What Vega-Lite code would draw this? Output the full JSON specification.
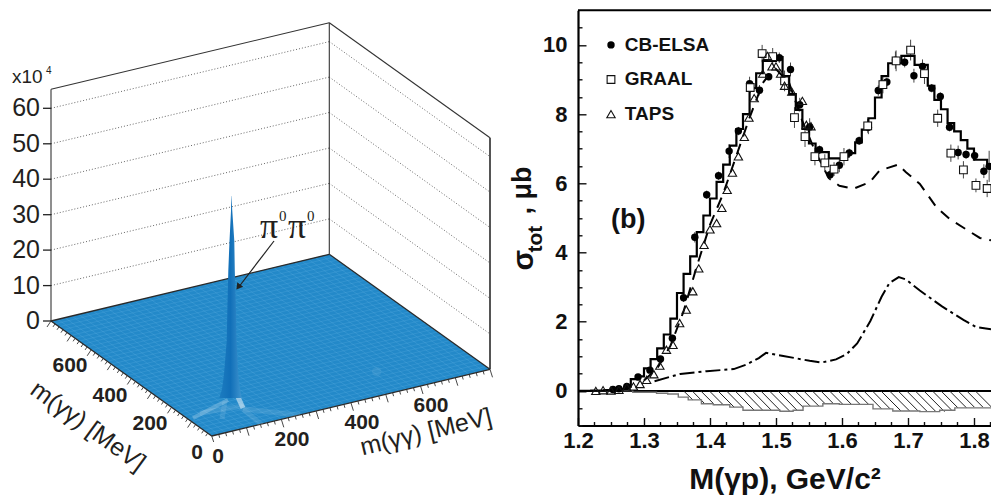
{"$schema":"https://vega.github.io/schema/vega-lite/v6.json","padding":{"left":0,"top":9.3,"right":0,"bottom":0},"spacing":0,"bounds":"flush","background":"white","config":{"view":{"stroke":null},"text":{"font":"Liberation Sans"}},
"datasets":{
"cb":[{"x":1.253,"y":0.04,"e":0.03},{"x":1.262,"y":0.06,"e":0.03},{"x":1.274,"y":0.13,"e":0.05},{"x":1.291,"y":0.4,"e":0.05},{"x":1.309,"y":0.6,"e":0.06},{"x":1.325,"y":0.92,"e":0.08},{"x":1.343,"y":1.52,"e":0.1},{"x":1.36,"y":2.69,"e":0.12},{"x":1.377,"y":4.44,"e":0.15},{"x":1.395,"y":5.67,"e":0.12},{"x":1.413,"y":6.22,"e":0.12},{"x":1.429,"y":6.93,"e":0.2},{"x":1.443,"y":7.51,"e":0.12},{"x":1.46,"y":8.88,"e":0.2},{"x":1.475,"y":8.69,"e":0.15},{"x":1.489,"y":9.08,"e":0.1},{"x":1.505,"y":9.63,"e":0.15},{"x":1.522,"y":9.29,"e":0.2},{"x":1.536,"y":8.27,"e":0.2},{"x":1.551,"y":7.63,"e":0.25},{"x":1.566,"y":6.97,"e":0.12},{"x":1.582,"y":6.25,"e":0.15},{"x":1.596,"y":6.52,"e":0.2},{"x":1.611,"y":6.88,"e":0.12},{"x":1.626,"y":7.23,"e":0.12},{"x":1.64,"y":7.62,"e":0.2},{"x":1.655,"y":8.68,"e":0.15},{"x":1.668,"y":8.93,"e":0.12},{"x":1.681,"y":9.56,"e":0.25},{"x":1.695,"y":9.5,"e":0.15},{"x":1.709,"y":9.11,"e":0.2},{"x":1.722,"y":9.38,"e":0.2},{"x":1.736,"y":8.75,"e":0.12},{"x":1.749,"y":8.51,"e":0.12},{"x":1.763,"y":7.62,"e":0.12},{"x":1.776,"y":6.89,"e":0.2},{"x":1.788,"y":6.83,"e":0.12},{"x":1.801,"y":6.8,"e":0.15},{"x":1.815,"y":6.35,"e":0.2},{"x":1.823,"y":6.49,"e":0.45}],
"graal":[{"x":1.461,"y":8.77,"e":0.15},{"x":1.479,"y":9.75,"e":0.25},{"x":1.495,"y":9.66,"e":0.25},{"x":1.513,"y":8.96,"e":0.3},{"x":1.528,"y":7.9,"e":0.3},{"x":1.544,"y":7.35,"e":0.3},{"x":1.559,"y":6.77,"e":0.25},{"x":1.574,"y":6.59,"e":0.25},{"x":1.588,"y":6.41,"e":0.2},{"x":1.603,"y":6.77,"e":0.25},{"x":1.639,"y":7.66,"e":0.2},{"x":1.662,"y":8.85,"e":0.25},{"x":1.682,"y":9.54,"e":0.3},{"x":1.704,"y":9.85,"e":0.3},{"x":1.725,"y":9.17,"e":0.3},{"x":1.745,"y":7.88,"e":0.25},{"x":1.765,"y":6.87,"e":0.25},{"x":1.784,"y":6.39,"e":0.25},{"x":1.803,"y":5.94,"e":0.2},{"x":1.82,"y":5.85,"e":0.25}]
},
"hconcat":[
{"width":578,"height":485.7,
"encoding":{"x":{"field":"u","type":"quantitative","scale":{"domain":[0,578]},"axis":null},"y":{"field":"v","type":"quantitative","scale":{"domain":[9.3,495],"reverse":true},"axis":null}},
"layer":[
{"data":{"values":[{"u":51,"v":284.6,"u2":329.3,"v2":217.9},{"u":51,"v":249.1,"u2":329.3,"v2":182.4},{"u":51,"v":213.7,"u2":329.3,"v2":147},{"u":51,"v":178.2,"u2":329.3,"v2":111.5},{"u":51,"v":142.8,"u2":329.3,"v2":76.1},{"u":51,"v":107.3,"u2":329.3,"v2":40.6},{"u":329.3,"v":217.9,"u2":490,"v2":332.9},{"u":329.3,"v":182.4,"u2":490,"v2":297.4},{"u":329.3,"v":147,"u2":490,"v2":262},{"u":329.3,"v":111.5,"u2":490,"v2":226.5},{"u":329.3,"v":76.1,"u2":490,"v2":191.1},{"u":329.3,"v":40.6,"u2":490,"v2":155.6}]},
"mark":{"type":"rule","stroke":"#666666","strokeWidth":1,"strokeDash":[1,2]},"encoding":{"x2":{"field":"u2"},"y2":{"field":"v2"}}},
{"data":{"values":[{"u":51,"v":88.3,"u2":329.3,"v2":21.7},{"u":329.3,"v":21.7,"u2":490,"v2":136.7},{"u":329.3,"v":21.7,"u2":329.3,"v2":253.3},{"u":51,"v":88.3,"u2":51,"v2":320}]},
"mark":{"type":"rule","stroke":"#333333","strokeWidth":1.1},"encoding":{"x2":{"field":"u2"},"y2":{"field":"v2"}}},
{"data":{"values":[{"u":490,"v":136.7,"u2":490,"v2":368.3}]},"mark":{"type":"rule","stroke":"#555555","strokeWidth":2},"encoding":{"x2":{"field":"u2"},"y2":{"field":"v2"}}},
{"data":{"values":[{"u":51,"v":320,"v2":320},{"u":211.7,"v":281.5,"v2":435},{"u":329.3,"v":253.3,"v2":406.8},{"u":490,"v":368.3,"v2":368.3}]},
"mark":{"type":"area","fill":"#2389c9","opacity":1},"encoding":{"y2":{"field":"v2"}}},
{"data":{"values":[{"u":207.7,"v":432.1,"u2":486,"v2":365.4},{"u":203.7,"v":429.3,"u2":482,"v2":362.6},{"u":199.6,"v":426.4,"u2":477.9,"v2":359.7},{"u":195.6,"v":423.5,"u2":473.9,"v2":356.8},{"u":191.6,"v":420.6,"u2":469.9,"v2":353.9},{"u":187.6,"v":417.8,"u2":465.9,"v2":351.1},{"u":183.6,"v":414.9,"u2":461.9,"v2":348.2},{"u":179.6,"v":412,"u2":457.9,"v2":345.3},{"u":175.5,"v":409.1,"u2":453.8,"v2":342.4},{"u":171.5,"v":406.3,"u2":449.8,"v2":339.6},{"u":167.5,"v":403.4,"u2":445.8,"v2":336.7},{"u":163.5,"v":400.5,"u2":441.8,"v2":333.8},{"u":159.5,"v":397.6,"u2":437.8,"v2":330.9},{"u":155.5,"v":394.8,"u2":433.8,"v2":328.1},{"u":151.4,"v":391.9,"u2":429.7,"v2":325.2},{"u":147.4,"v":389,"u2":425.7,"v2":322.3},{"u":143.4,"v":386.1,"u2":421.7,"v2":319.4},{"u":139.4,"v":383.3,"u2":417.7,"v2":316.6},{"u":135.4,"v":380.4,"u2":413.7,"v2":313.7},{"u":131.3,"v":377.5,"u2":409.6,"v2":310.8},{"u":127.3,"v":374.6,"u2":405.6,"v2":307.9},{"u":123.3,"v":371.8,"u2":401.6,"v2":305.1},{"u":119.3,"v":368.9,"u2":397.6,"v2":302.2},{"u":115.3,"v":366,"u2":393.6,"v2":299.3},{"u":111.3,"v":363.1,"u2":389.6,"v2":296.4},{"u":107.2,"v":360.3,"u2":385.5,"v2":293.6},{"u":103.2,"v":357.4,"u2":381.5,"v2":290.7},{"u":99.2,"v":354.5,"u2":377.5,"v2":287.8},{"u":95.2,"v":351.6,"u2":373.5,"v2":284.9},{"u":91.2,"v":348.8,"u2":369.5,"v2":282.1},{"u":87.1,"v":345.9,"u2":365.4,"v2":279.2},{"u":83.1,"v":343,"u2":361.4,"v2":276.3},{"u":79.1,"v":340.1,"u2":357.4,"v2":273.4},{"u":75.1,"v":337.3,"u2":353.4,"v2":270.6},{"u":71.1,"v":334.4,"u2":349.4,"v2":267.7},{"u":67,"v":331.5,"u2":345.3,"v2":264.8},{"u":63,"v":328.6,"u2":341.3,"v2":261.9},{"u":59,"v":325.8,"u2":337.3,"v2":259.1},{"u":55,"v":322.9,"u2":333.3,"v2":256.2},
{"u":218.7,"v":433.3,"u2":58,"v2":318.3},{"u":225.6,"v":431.7,"u2":64.9,"v2":316.7},{"u":232.5,"v":430,"u2":71.8,"v2":315},{"u":239.5,"v":428.3,"u2":78.8,"v2":313.3},{"u":246.5,"v":426.7,"u2":85.8,"v2":311.7},{"u":253.5,"v":425,"u2":92.8,"v2":310},{"u":260.4,"v":423.3,"u2":99.7,"v2":308.3},{"u":267.4,"v":421.7,"u2":106.7,"v2":306.7},{"u":274.3,"v":420,"u2":113.6,"v2":305},{"u":281.3,"v":418.3,"u2":120.6,"v2":303.3},{"u":288.2,"v":416.7,"u2":127.5,"v2":301.7},{"u":295.2,"v":415,"u2":134.5,"v2":300},{"u":302.2,"v":413.3,"u2":141.5,"v2":298.3},{"u":309.1,"v":411.7,"u2":148.4,"v2":296.7},{"u":316.1,"v":410,"u2":155.4,"v2":295},{"u":323,"v":408.3,"u2":162.3,"v2":293.3},{"u":330,"v":406.7,"u2":169.3,"v2":291.7},{"u":337,"v":405,"u2":176.3,"v2":290},{"u":343.9,"v":403.3,"u2":183.2,"v2":288.3},{"u":350.9,"v":401.7,"u2":190.2,"v2":286.7},{"u":357.9,"v":400,"u2":197.2,"v2":285},{"u":364.8,"v":398.3,"u2":204.1,"v2":283.3},{"u":371.8,"v":396.7,"u2":211.1,"v2":281.7},{"u":378.7,"v":395,"u2":218,"v2":280},{"u":385.7,"v":393.3,"u2":225,"v2":278.3},{"u":392.6,"v":391.7,"u2":231.9,"v2":276.7},{"u":399.6,"v":390,"u2":238.9,"v2":275},{"u":406.6,"v":388.3,"u2":245.9,"v2":273.3},{"u":413.5,"v":386.7,"u2":252.8,"v2":271.7},{"u":420.5,"v":385,"u2":259.8,"v2":270},{"u":427.4,"v":383.3,"u2":266.7,"v2":268.3},{"u":434.4,"v":381.7,"u2":273.7,"v2":266.7},{"u":441.4,"v":380,"u2":280.7,"v2":265},{"u":448.3,"v":378.3,"u2":287.6,"v2":263.3},{"u":455.3,"v":376.7,"u2":294.6,"v2":261.7},{"u":462.2,"v":375,"u2":301.5,"v2":260},{"u":469.2,"v":373.3,"u2":308.5,"v2":258.3},{"u":476.2,"v":371.7,"u2":315.5,"v2":256.7},{"u":483.1,"v":370,"u2":322.4,"v2":255}]},
"mark":{"type":"rule","stroke":"#7cc2ee","strokeWidth":0.6,"opacity":0.3},"encoding":{"x2":{"field":"u2"},"y2":{"field":"v2"}}},
{"data":{"values":[{"u":51,"v":320,"u2":211.7,"v2":435},{"u":211.7,"v":435,"u2":490,"v2":368.3},{"u":51,"v":320,"u2":329.3,"v2":253.3},{"u":329.3,"v":253.3,"u2":490,"v2":368.3}]},
"mark":{"type":"rule","stroke":"#2a2a2a","strokeWidth":1.3},"encoding":{"x2":{"field":"u2"},"y2":{"field":"v2"}}},
{"data":{"values":[{"u":376.7,"v":370.7}]},"mark":{"type":"point","shape":"circle","filled":true,"color":"#ffffff","size":90,"opacity":0.07}},
{"data":{"values":[{"u":200,"v":412,"u2":243,"v2":405},{"u":243,"v":408,"u2":300,"v2":414},{"u":243,"v":408,"u2":262,"v2":424},{"u":225,"v":400,"u2":222,"v2":418}]},"mark":{"type":"rule","stroke":"#ffffff","opacity":0.1,"strokeWidth":5},"encoding":{"x2":{"field":"u2"},"y2":{"field":"v2"}}},
{"data":{"values":[{"u":193,"v":417,"u2":228,"v2":399}]},"mark":{"type":"rule","stroke":"#ffffff","opacity":0.22,"strokeWidth":4},"encoding":{"x2":{"field":"u2"},"y2":{"field":"v2"}}},
{"data":{"values":[{"u":238,"v":396,"u2":243,"v2":407}]},"mark":{"type":"rule","stroke":"#ffffff","opacity":0.5,"strokeWidth":5},"encoding":{"x2":{"field":"u2"},"y2":{"field":"v2"}}},
{"data":{"values":[{"u":231.2,"u2":231.4,"v":195},{"u":231,"u2":232.3,"v":210},{"u":229.5,"u2":234.3,"v":240},{"u":228.3,"u2":234.8,"v":270},{"u":227.3,"u2":236,"v":310},{"u":226.7,"u2":236.5,"v":340},{"u":224,"u2":238.3,"v":373},{"u":222,"u2":240,"v":388},{"u":219.3,"u2":241.7,"v":397}]},
"mark":{"type":"area","orient":"horizontal","fill":{"gradient":"linear","x1":0,"x2":1,"y1":0,"y2":0,"stops":[{"offset":0,"color":"#1c7cc0"},{"offset":0.5,"color":"#116fb8"},{"offset":1,"color":"#3e94cf"}]}},"encoding":{"x2":{"field":"u2"}}},
{"data":{"values":[{"u":274,"v":240,"u2":238,"v2":287}]},"mark":{"type":"rule","stroke":"#222222","strokeWidth":1.2},"encoding":{"x2":{"field":"u2"},"y2":{"field":"v2"}}},
{"data":{"values":[{"u":238.3,"v":286}]},"mark":{"type":"point","shape":"triangle-up","filled":true,"color":"#222222","size":55,"angle":217,"opacity":1}},
{"data":{"values":[{"u":43,"v":320,"u2":51,"v2":320},{"u":43,"v":284.6,"u2":51,"v2":284.6},{"u":43,"v":249.1,"u2":51,"v2":249.1},{"u":43,"v":213.7,"u2":51,"v2":213.7},{"u":43,"v":178.2,"u2":51,"v2":178.2},{"u":43,"v":142.8,"u2":51,"v2":142.8},{"u":43,"v":107.3,"u2":51,"v2":107.3}]},"mark":{"type":"rule","stroke":"#222222","strokeWidth":1.3},"encoding":{"x2":{"field":"u2"},"y2":{"field":"v2"}}},
{"data":{"values":[{"v":312.9},{"v":305.8},{"v":298.7},{"v":291.6},{"v":277.5},{"v":270.4},{"v":263.3},{"v":256.2},{"v":242},{"v":234.9},{"v":227.8},{"v":220.7},{"v":206.6},{"v":199.5},{"v":192.4},{"v":185.3},{"v":171.1},{"v":164},{"v":156.9},{"v":149.8},{"v":135.7},{"v":128.6},{"v":121.5},{"v":114.4},{"v":100.2},{"v":93.1}]},"mark":{"type":"tick","orient":"horizontal","color":"#555555","thickness":1,"size":3},"encoding":{"x":{"datum":50,"type":"quantitative"}}},
{"data":{"values":[{"u":211.7,"v":435,"u2":213.7,"v2":441},{"u":218.7,"v":433.3,"u2":219.7,"v2":436.8},{"u":225.6,"v":431.7,"u2":226.6,"v2":435.2},{"u":232.5,"v":430,"u2":233.5,"v2":433.5},{"u":239.5,"v":428.3,"u2":240.5,"v2":431.8},{"u":246.5,"v":426.7,"u2":249,"v2":434.7},{"u":253.5,"v":425,"u2":254.5,"v2":428.5},{"u":260.4,"v":423.3,"u2":261.4,"v2":426.8},{"u":267.4,"v":421.7,"u2":268.4,"v2":425.2},{"u":274.3,"v":420,"u2":275.3,"v2":423.5},{"u":281.3,"v":418.3,"u2":283.8,"v2":426.3},{"u":288.2,"v":416.7,"u2":289.2,"v2":420.2},{"u":295.2,"v":415,"u2":296.2,"v2":418.5},{"u":302.2,"v":413.3,"u2":303.2,"v2":416.8},{"u":309.1,"v":411.7,"u2":310.1,"v2":415.2},{"u":316.1,"v":410,"u2":318.6,"v2":418},{"u":323,"v":408.3,"u2":324,"v2":411.8},{"u":330,"v":406.7,"u2":331,"v2":410.2},{"u":337,"v":405,"u2":338,"v2":408.5},{"u":343.9,"v":403.3,"u2":344.9,"v2":406.8},{"u":350.9,"v":401.7,"u2":353.4,"v2":409.7},{"u":357.9,"v":400,"u2":358.9,"v2":403.5},{"u":364.8,"v":398.3,"u2":365.8,"v2":401.8},{"u":371.8,"v":396.7,"u2":372.8,"v2":400.2},{"u":378.7,"v":395,"u2":379.7,"v2":398.5},{"u":385.7,"v":393.3,"u2":388.2,"v2":401.3},{"u":392.6,"v":391.7,"u2":393.6,"v2":395.2},{"u":399.6,"v":390,"u2":400.6,"v2":393.5},{"u":406.6,"v":388.3,"u2":407.6,"v2":391.8},{"u":413.5,"v":386.7,"u2":414.5,"v2":390.2},{"u":420.5,"v":385,"u2":423,"v2":393},{"u":427.4,"v":383.3,"u2":428.4,"v2":386.8},{"u":434.4,"v":381.7,"u2":435.4,"v2":385.2},{"u":441.4,"v":380,"u2":442.4,"v2":383.5},{"u":448.3,"v":378.3,"u2":449.3,"v2":381.8},{"u":455.3,"v":376.7,"u2":457.8,"v2":384.7},{"u":462.2,"v":375,"u2":463.2,"v2":378.5},{"u":469.2,"v":373.3,"u2":470.2,"v2":376.8},{"u":476.2,"v":371.7,"u2":477.2,"v2":375.2},{"u":483.1,"v":370,"u2":484.1,"v2":373.5},{"u":490,"v":368.3,"u2":492.5,"v2":376.3},
{"u":207.7,"v":432.1,"u2":205.7,"v2":435.1},{"u":203.7,"v":429.3,"u2":201.7,"v2":432.3},{"u":199.6,"v":426.4,"u2":197.6,"v2":429.4},{"u":195.6,"v":423.5,"u2":193.6,"v2":426.5},{"u":191.6,"v":420.6,"u2":187.6,"v2":426.6},{"u":187.6,"v":417.8,"u2":185.6,"v2":420.8},{"u":183.6,"v":414.9,"u2":181.6,"v2":417.9},{"u":179.6,"v":412,"u2":177.6,"v2":415},{"u":175.5,"v":409.1,"u2":173.5,"v2":412.1},{"u":171.5,"v":406.3,"u2":167.5,"v2":412.3},{"u":167.5,"v":403.4,"u2":165.5,"v2":406.4},{"u":163.5,"v":400.5,"u2":161.5,"v2":403.5},{"u":159.5,"v":397.6,"u2":157.5,"v2":400.6},{"u":155.5,"v":394.8,"u2":153.5,"v2":397.8},{"u":151.4,"v":391.9,"u2":147.4,"v2":397.9},{"u":147.4,"v":389,"u2":145.4,"v2":392},{"u":143.4,"v":386.1,"u2":141.4,"v2":389.1},{"u":139.4,"v":383.3,"u2":137.4,"v2":386.3},{"u":135.4,"v":380.4,"u2":133.4,"v2":383.4},{"u":131.3,"v":377.5,"u2":127.3,"v2":383.5},{"u":127.3,"v":374.6,"u2":125.3,"v2":377.6},{"u":123.3,"v":371.8,"u2":121.3,"v2":374.8},{"u":119.3,"v":368.9,"u2":117.3,"v2":371.9},{"u":115.3,"v":366,"u2":113.3,"v2":369},{"u":111.3,"v":363.1,"u2":107.3,"v2":369.1},{"u":107.2,"v":360.3,"u2":105.2,"v2":363.3},{"u":103.2,"v":357.4,"u2":101.2,"v2":360.4},{"u":99.2,"v":354.5,"u2":97.2,"v2":357.5},{"u":95.2,"v":351.6,"u2":93.2,"v2":354.6},{"u":91.2,"v":348.8,"u2":87.2,"v2":354.8},{"u":87.1,"v":345.9,"u2":85.1,"v2":348.9},{"u":83.1,"v":343,"u2":81.1,"v2":346},{"u":79.1,"v":340.1,"u2":77.1,"v2":343.1},{"u":75.1,"v":337.3,"u2":73.1,"v2":340.3},{"u":71.1,"v":334.4,"u2":67.1,"v2":340.4},{"u":67,"v":331.5,"u2":65,"v2":334.5},{"u":63,"v":328.6,"u2":61,"v2":331.6},{"u":59,"v":325.8,"u2":57,"v2":328.8},{"u":55,"v":322.9,"u2":53,"v2":325.9},{"u":51,"v":320,"u2":47,"v2":326}]},
"mark":{"type":"rule","stroke":"#333333","strokeWidth":0.9},"encoding":{"x2":{"field":"u2"},"y2":{"field":"v2"}}},
{"data":{"values":[{"u":40,"v":320,"t":"0"},{"u":40,"v":284.6,"t":"10"},{"u":40,"v":249.1,"t":"20"},{"u":40,"v":213.7,"t":"30"},{"u":40,"v":178.2,"t":"40"},{"u":40,"v":142.8,"t":"50"},{"u":40,"v":107.3,"t":"60"}]},
"mark":{"type":"text","align":"right","baseline":"middle","fontSize":25,"color":"#231f20","font":"Liberation Sans"},"encoding":{"text":{"field":"t"}}},
{"data":{"values":[{"u":12,"v":82,"t":"x10"}]},"mark":{"type":"text","align":"left","baseline":"alphabetic","fontSize":19,"color":"#231f20","font":"Liberation Sans"},"encoding":{"text":{"field":"t"}}},
{"data":{"values":[{"u":46,"v":73,"t":"4"}]},"mark":{"type":"text","align":"left","baseline":"alphabetic","fontSize":10,"color":"#231f20","font":"Liberation Sans"},"encoding":{"text":{"field":"t"}}},
{"data":{"values":[{"u":197,"v":452,"t":"0"},{"u":150,"v":423,"t":"200"},{"u":110,"v":395,"t":"400"},{"u":70,"v":365,"t":"600"},{"u":218,"v":456,"t":"0"},{"u":292,"v":439,"t":"200"},{"u":362,"v":422,"t":"400"},{"u":431,"v":405,"t":"600"}]},
"mark":{"type":"text","align":"center","baseline":"middle","fontSize":21,"fontWeight":"bold","color":"#231f20","font":"Liberation Sans"},"encoding":{"text":{"field":"t"}}},
{"data":{"values":[{"u":88,"v":425,"t":"m(γγ) [MeV]"}]},"mark":{"type":"text","align":"center","baseline":"middle","fontSize":25,"angle":36,"color":"#231f20","font":"Liberation Sans"},"encoding":{"text":{"field":"t"}}},
{"data":{"values":[{"u":426,"v":431,"t":"m(γγ) [MeV]"}]},"mark":{"type":"text","align":"center","baseline":"middle","fontSize":25,"angle":-13.5,"color":"#231f20","font":"Liberation Sans"},"encoding":{"text":{"field":"t"}}},
{"data":{"values":[{"u":260,"v":237,"t":"π"},{"u":288,"v":237,"t":"π"}]},"mark":{"type":"text","align":"left","baseline":"alphabetic","fontSize":36,"color":"#231f20","font":"Liberation Serif"},"encoding":{"text":{"field":"t"}}},
{"data":{"values":[{"u":279,"v":220,"t":"0"},{"u":307,"v":220,"t":"0"}]},"mark":{"type":"text","align":"left","baseline":"alphabetic","fontSize":15,"color":"#231f20","font":"Liberation Serif"},"encoding":{"text":{"field":"t"}}}
]},
{"width":413,"height":415.2,
"encoding":{
"x":{"field":"x","type":"quantitative","title":"M(γp), GeV/c²","scale":{"domain":[1.2,1.8258],"nice":false,"zero":false},"axis":{"values":[1.2,1.225,1.25,1.275,1.3,1.325,1.35,1.375,1.4,1.425,1.45,1.475,1.5,1.525,1.55,1.575,1.6,1.625,1.65,1.675,1.7,1.725,1.75,1.775,1.8,1.825],"labelExpr":"abs(datum.value*10-round(datum.value*10))<0.01?format(datum.value,'.1f'):''","labelOverlap":false,"labelFlush":false,"tickSize":{"condition":{"test":"abs(datum.value*10-round(datum.value*10))<0.01","value":-8},"value":-4},"tickColor":"#111111","tickWidth":1.4,"domainColor":"#000000","domainWidth":2.2,"grid":false,"labelFont":"Liberation Sans","labelFontWeight":"bold","labelFontSize":22,"labelColor":"#111111","labelPadding":13,"titleFont":"Liberation Sans","titleFontWeight":"bold","titleFontSize":30,"titleColor":"#111111","titlePadding":9}},
"y":{"field":"y","type":"quantitative","title":null,"scale":{"domain":[-1,11],"nice":false,"zero":false},"axis":{"values":[-1,-0.5,0,0.5,1,1.5,2,2.5,3,3.5,4,4.5,5,5.5,6,6.5,7,7.5,8,8.5,9,9.5,10,10.5],"labelExpr":"(datum.value%2==0&&datum.value>=0)?format(datum.value,'d'):''","labelOverlap":false,"labelFlush":false,"tickSize":{"condition":{"test":"datum.value%2==0","value":-8},"value":-4},"tickColor":"#111111","tickWidth":1.4,"domainColor":"#000000","domainWidth":2.2,"grid":false,"labelFont":"Liberation Sans","labelFontWeight":"bold","labelFontSize":22,"labelColor":"#111111","labelPadding":19}}},
"layer":[
{"data":{"values":[{"x":1.2,"y":11,"x2":1.8258},{"x":1.2,"y":0,"x2":1.8258}]},"mark":{"type":"rule","stroke":"#000000","strokeWidth":2},"encoding":{"x2":{"field":"x2"}}},
{"data":{"values":[{"x":1.36,"x2":1.374,"y":0,"y2":-0.26},{"x":1.373,"x2":1.392,"y":0,"y2":-0.37},{"x":1.386,"x2":1.407,"y":0,"y2":-0.4},{"x":1.399,"x2":1.42,"y":0,"y2":-0.4},{"x":1.412,"x2":1.4366,"y":0,"y2":-0.47},{"x":1.425,"x2":1.4496,"y":0,"y2":-0.47},{"x":1.438,"x2":1.467,"y":0,"y2":-0.56},{"x":1.451,"x2":1.48,"y":0,"y2":-0.56},{"x":1.464,"x2":1.493,"y":0,"y2":-0.56},{"x":1.477,"x2":1.506,"y":0,"y2":-0.56},{"x":1.49,"x2":1.521,"y":0,"y2":-0.59},{"x":1.503,"x2":1.532,"y":0,"y2":-0.56},{"x":1.516,"x2":1.5415,"y":0,"y2":-0.48},{"x":1.529,"x2":1.552,"y":0,"y2":-0.44},{"x":1.542,"x2":1.565,"y":0,"y2":-0.44},{"x":1.555,"x2":1.5744,"y":0,"y2":-0.37},{"x":1.568,"x2":1.587,"y":0,"y2":-0.37},{"x":1.581,"x2":1.6014,"y":0,"y2":-0.39},{"x":1.594,"x2":1.6144,"y":0,"y2":-0.39},{"x":1.607,"x2":1.6274,"y":0,"y2":-0.39},{"x":1.62,"x2":1.6404,"y":0,"y2":-0.39},{"x":1.633,"x2":1.66,"y":0,"y2":-0.52},{"x":1.646,"x2":1.673,"y":0,"y2":-0.52},{"x":1.659,"x2":1.6894,"y":0,"y2":-0.58},{"x":1.672,"x2":1.7024,"y":0,"y2":-0.58},{"x":1.685,"x2":1.7154,"y":0,"y2":-0.58},{"x":1.698,"x2":1.7294,"y":0,"y2":-0.6},{"x":1.711,"x2":1.7424,"y":0,"y2":-0.6},{"x":1.724,"x2":1.7554,"y":0,"y2":-0.6},{"x":1.737,"x2":1.7664,"y":0,"y2":-0.56},{"x":1.75,"x2":1.7757,"y":0,"y2":-0.49},{"x":1.763,"x2":1.7887,"y":0,"y2":-0.49},{"x":1.776,"x2":1.8006,"y":0,"y2":-0.47},{"x":1.789,"x2":1.8136,"y":0,"y2":-0.47},{"x":1.802,"x2":1.8266,"y":0,"y2":-0.47}]},"mark":{"type":"rule","stroke":"#222222","strokeWidth":1,"clip":true},"encoding":{"x2":{"field":"x2"},"y2":{"field":"y2"}}},
{"data":{"values":[{"x":1.2,"y":0},{"x":1.283,"y":-0.04},{"x":1.319,"y":-0.07},{"x":1.336,"y":-0.09},{"x":1.352,"y":-0.18},{"x":1.367,"y":-0.26},{"x":1.387,"y":-0.37},{"x":1.405,"y":-0.4},{"x":1.43,"y":-0.47},{"x":1.45,"y":-0.56},{"x":1.485,"y":-0.56},{"x":1.506,"y":-0.59},{"x":1.526,"y":-0.56},{"x":1.541,"y":-0.44},{"x":1.571,"y":-0.37},{"x":1.596,"y":-0.39},{"x":1.647,"y":-0.52},{"x":1.677,"y":-0.58},{"x":1.718,"y":-0.6},{"x":1.748,"y":-0.56},{"x":1.771,"y":-0.49},{"x":1.8258,"y":-0.47}]},"mark":{"type":"line","interpolate":"step-after","stroke":"#777777","strokeWidth":1.4}},
{"data":{"values":[{"x":1.3,"y":0.3},{"x":1.32,"y":0.65},{"x":1.34,"y":1.3},{"x":1.36,"y":2.3},{"x":1.38,"y":3.6},{"x":1.4,"y":4.8},{"x":1.42,"y":5.7},{"x":1.44,"y":6.8},{"x":1.46,"y":7.9},{"x":1.48,"y":8.9},{"x":1.49,"y":9.15},{"x":1.5,"y":9.3},{"x":1.52,"y":8.9},{"x":1.54,"y":7.8},{"x":1.56,"y":6.9},{"x":1.58,"y":6.15},{"x":1.596,"y":5.93},{"x":1.617,"y":5.84},{"x":1.642,"y":6.03},{"x":1.657,"y":6.37},{"x":1.685,"y":6.54},{"x":1.697,"y":6.32},{"x":1.718,"y":5.98},{"x":1.743,"y":5.31},{"x":1.763,"y":4.97},{"x":1.783,"y":4.73},{"x":1.809,"y":4.42},{"x":1.8258,"y":4.35}]},"mark":{"type":"line","stroke":"#000000","strokeWidth":2,"strokeDash":[11,8]}},
{"data":{"values":[{"x":1.316,"y":0.28},{"x":1.355,"y":0.49},{"x":1.395,"y":0.57},{"x":1.436,"y":0.63},{"x":1.455,"y":0.76},{"x":1.474,"y":0.95},{"x":1.485,"y":1.1},{"x":1.511,"y":1.01},{"x":1.551,"y":0.87},{"x":1.569,"y":0.82},{"x":1.591,"y":0.91},{"x":1.607,"y":1.06},{"x":1.623,"y":1.37},{"x":1.643,"y":2.02},{"x":1.66,"y":2.72},{"x":1.672,"y":3.12},{"x":1.686,"y":3.29},{"x":1.697,"y":3.22},{"x":1.718,"y":2.9},{"x":1.751,"y":2.45},{"x":1.784,"y":2.05},{"x":1.803,"y":1.85},{"x":1.8258,"y":1.78}]},"mark":{"type":"line","stroke":"#000000","strokeWidth":2,"strokeDash":[15,4,3,4]}},
{"data":{"name":"cb"},"mark":{"type":"errorbar","rule":{"stroke":"#444444","strokeWidth":1}},"encoding":{"yError":{"field":"e"}}},
{"data":{"name":"graal"},"mark":{"type":"errorbar","rule":{"stroke":"#444444","strokeWidth":1}},"encoding":{"yError":{"field":"e"}}},
{"data":{"name":"cb"},"mark":{"type":"point","shape":"circle","filled":true,"color":"#000000","size":55,"opacity":1}},
{"data":{"values":[{"x":1.2,"y":0},{"x":1.22,"y":0.01},{"x":1.24,"y":0.02},{"x":1.25,"y":0.04},{"x":1.26,"y":0.06},{"x":1.27,"y":0.12},{"x":1.28,"y":0.34},{"x":1.29,"y":0.42},{"x":1.3,"y":0.65},{"x":1.31,"y":0.92},{"x":1.32,"y":1.23},{"x":1.33,"y":1.63},{"x":1.34,"y":2.09},{"x":1.35,"y":2.83},{"x":1.36,"y":3.38},{"x":1.37,"y":3.89},{"x":1.38,"y":4.59},{"x":1.39,"y":5.07},{"x":1.4,"y":5.56},{"x":1.41,"y":6.04},{"x":1.42,"y":6.54},{"x":1.43,"y":7.09},{"x":1.44,"y":7.57},{"x":1.45,"y":8},{"x":1.46,"y":8.75},{"x":1.47,"y":9.18},{"x":1.48,"y":9.54},{"x":1.49,"y":9.54},{"x":1.5,"y":9.65},{"x":1.51,"y":9.1},{"x":1.52,"y":8.58},{"x":1.53,"y":8.12},{"x":1.54,"y":7.57},{"x":1.55,"y":7.15},{"x":1.56,"y":6.9},{"x":1.57,"y":6.9},{"x":1.58,"y":6.72},{"x":1.59,"y":6.72},{"x":1.6,"y":6.77},{"x":1.61,"y":6.87},{"x":1.62,"y":7.18},{"x":1.63,"y":7.55},{"x":1.64,"y":7.88},{"x":1.65,"y":8.48},{"x":1.66,"y":9.1},{"x":1.67,"y":9.47},{"x":1.68,"y":9.47},{"x":1.69,"y":9.68},{"x":1.7,"y":9.68},{"x":1.71,"y":9.42},{"x":1.72,"y":9.42},{"x":1.73,"y":8.82},{"x":1.74,"y":8.41},{"x":1.75,"y":8.14},{"x":1.76,"y":7.74},{"x":1.77,"y":7.5},{"x":1.78,"y":7.25},{"x":1.79,"y":7},{"x":1.8,"y":6.68},{"x":1.81,"y":6.68},{"x":1.82,"y":6.55},{"x":1.8258,"y":6.55}]},"mark":{"type":"line","interpolate":"step-after","stroke":"#000000","strokeWidth":2.2}},
{"data":{"name":"graal"},"mark":{"type":"point","shape":"square","filled":false,"fill":"#ffffff","fillOpacity":1,"stroke":"#111111","strokeWidth":1.1,"size":60,"opacity":1}},
{"data":{"values":[{"x":1.227,"y":0},{"x":1.238,"y":0.02},{"x":1.25,"y":0.01},{"x":1.262,"y":0.03},{"x":1.274,"y":0.1},{"x":1.284,"y":0.13},{"x":1.294,"y":0.2},{"x":1.304,"y":0.32},{"x":1.315,"y":0.48},{"x":1.324,"y":0.73},{"x":1.334,"y":1.19},{"x":1.344,"y":1.33},{"x":1.354,"y":1.96},{"x":1.364,"y":2.35},{"x":1.374,"y":2.88},{"x":1.383,"y":3.54},{"x":1.391,"y":4.22},{"x":1.4,"y":4.67},{"x":1.41,"y":4.85},{"x":1.418,"y":5.29},{"x":1.426,"y":5.81},{"x":1.434,"y":6.31},{"x":1.443,"y":6.78},{"x":1.452,"y":7.34},{"x":1.459,"y":7.9},{"x":1.467,"y":8.46},{"x":1.48,"y":9.17},{"x":1.487,"y":9.68},{"x":1.494,"y":9.38},{"x":1.5,"y":9.38},{"x":1.507,"y":9.17},{"x":1.513,"y":8.82},{"x":1.524,"y":8.65},{"x":1.54,"y":8.38},{"x":1.546,"y":7.69},{"x":1.553,"y":7.65}]},"mark":{"type":"point","shape":"triangle-up","filled":false,"stroke":"#111111","strokeWidth":1.1,"size":70,"opacity":1}},
{"data":{"values":[{"x":1.25,"y":10}]},"mark":{"type":"point","shape":"circle","filled":true,"color":"#000000","size":55,"opacity":1}},
{"data":{"values":[{"x":1.25,"y":9}]},"mark":{"type":"point","shape":"square","filled":false,"stroke":"#111111","strokeWidth":1.1,"size":60,"opacity":1}},
{"data":{"values":[{"x":1.25,"y":8}]},"mark":{"type":"point","shape":"triangle-up","filled":false,"stroke":"#111111","strokeWidth":1.1,"size":70,"opacity":1}},
{"data":{"values":[{"x":1.271,"y":10,"t":"CB-ELSA"},{"x":1.271,"y":9,"t":"GRAAL"},{"x":1.271,"y":8,"t":"TAPS"}]},"mark":{"type":"text","align":"left","baseline":"middle","fontSize":19,"fontWeight":"bold","color":"#111111","font":"Liberation Sans"},"encoding":{"text":{"field":"t"}}},
{"data":{"values":[{"x":1.25,"y":4.7,"t":"(b)"}]},"mark":{"type":"text","align":"left","baseline":"alphabetic","fontSize":27,"fontWeight":"bold","color":"#111111","font":"Liberation Sans"},"encoding":{"text":{"field":"t"}}},
{"data":{"values":[{"x":1.1318,"y":3.477,"t":"σ"}]},"mark":{"type":"text","align":"left","baseline":"alphabetic","angle":-90,"fontSize":30,"fontWeight":"bold","color":"#111111","font":"Liberation Sans"},"encoding":{"text":{"field":"t"}}},
{"data":{"values":[{"x":1.145,"y":3.997,"t":"tot"}]},"mark":{"type":"text","align":"left","baseline":"alphabetic","angle":-90,"fontSize":21,"fontWeight":"bold","color":"#111111","font":"Liberation Sans"},"encoding":{"text":{"field":"t"}}},
{"data":{"values":[{"x":1.1283,"y":5.1,"t":", μb"}]},"mark":{"type":"text","align":"left","baseline":"alphabetic","angle":-90,"fontSize":27,"fontWeight":"bold","color":"#111111","font":"Liberation Sans"},"encoding":{"text":{"field":"t"}}}
]}
]}
